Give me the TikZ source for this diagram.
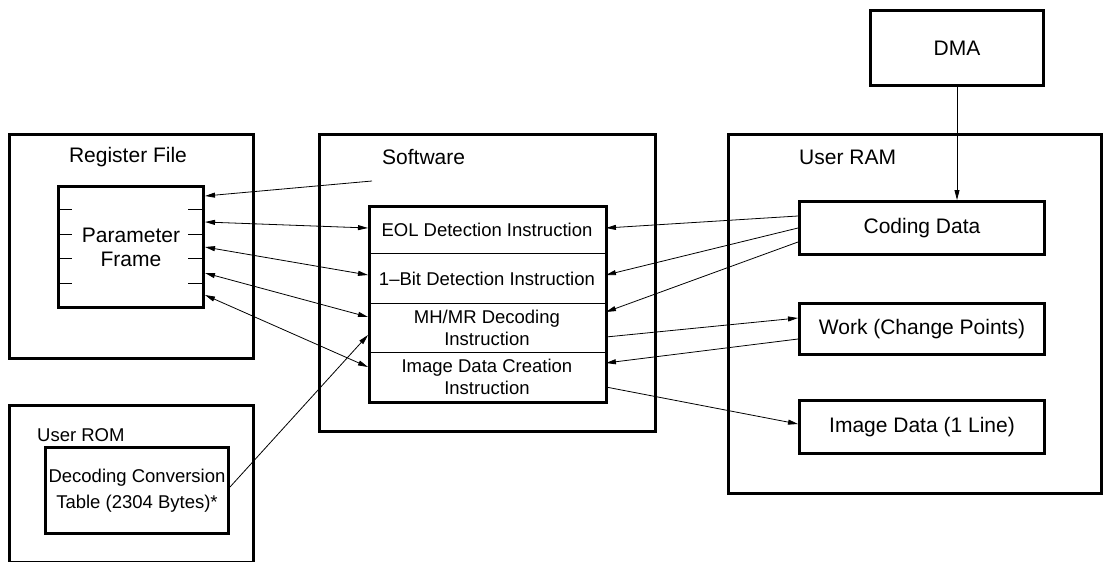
\documentclass[tikz,border=0pt]{standalone}
\usepackage{fontspec}
\setmainfont{Liberation Sans}
\usetikzlibrary{arrows.meta}
\begin{document}
\begin{tikzpicture}[x=1pt,y=-1pt,
  thickbox/.style={draw,line width=3pt,anchor=north west,inner sep=0pt},
  thinbox/.style={draw,line width=0.9pt,anchor=north west,inner sep=0pt,align=center,font=\fontsize{18.5}{22}\selectfont},
  big/.style={font=\fontsize{21}{24}\selectfont,inner sep=0pt},
  small/.style={font=\fontsize{18.5}{26}\selectfont,inner sep=0pt},
  conn/.style={line width=0.8pt},
  arr/.style={conn,-{Triangle[length=10pt,width=5pt]}},
  darr/.style={conn,{Triangle[length=10pt,width=5pt]}-{Triangle[length=10pt,width=5pt]}},
  tick/.style={line width=0.8pt}]
\useasboundingbox (0,0) rectangle (1103,562);
% Register File
\node[thickbox,minimum width=244pt,minimum height=224pt] (reg) at (8,133) {};
\node[big] (reglbl) at (128,157) {Register File};
\node[thickbox,minimum width=145pt,minimum height=121pt,big,align=center] (pf) at (57,185) {};
\node[big,align=center] (pflbl) at (pf.center) {Parameter\\[0pt]Frame};
\foreach \s/\n in {-24/a,-49/b,-73/c,-98/d}{
  \draw[tick] ([yshift=\s pt]pf.north west) -- ++(15,0);
  \draw[tick] ([yshift=\s pt]pf.north east) -- ++(-17,0);
}
% User ROM
\node[thickbox,minimum width=244pt,minimum height=157pt] (rom) at (8,404) {};
\node[small,anchor=west] (romlbl) at (37,435) {User ROM};
\node[thickbox,minimum width=183pt,minimum height=86pt] (dct) at (44,446) {};
\node[small,align=center] (dctlbl) at (dct.center) {Decoding Conversion\\Table (2304 Bytes)*};
% Software
\node[thickbox,minimum width=336pt,minimum height=297pt] (sw) at (318,133) {};
\node[big,anchor=west] (swlbl) at (382,157) {Software};
\coordinate (swsrc) at (372,181);
\node[thinbox,minimum width=237pt,minimum height=48pt] (eol) at (368,205) {EOL Detection Instruction};
\node[thinbox,minimum width=237pt,minimum height=50pt] (bit) at (368,253) {1–Bit Detection Instruction};
\node[thinbox,minimum width=237pt,minimum height=49pt] (mhmr) at (368,303) {MH/MR Decoding\\Instruction};
\node[thinbox,minimum width=237pt,minimum height=49pt] (img) at (368,352) {Image Data Creation\\Instruction};
\node[thickbox,minimum width=237pt,minimum height=196pt] (ins) at (368,205) {};
% User RAM
\node[thickbox,minimum width=373pt,minimum height=359pt] (ram) at (727,133) {};
\node[big,anchor=west] (ramlbl) at (799,157) {User RAM};
\node[thickbox,minimum width=245pt,minimum height=53pt,big] (coding) at (798,200) {Coding Data};
\node[thickbox,minimum width=245pt,minimum height=51pt,big] (work) at (798,302) {Work (Change Points)};
\node[thickbox,minimum width=245pt,minimum height=53pt,big] (imgd) at (798,399) {Image Data (1 Line)};
% DMA
\node[thickbox,minimum width=173pt,minimum height=75pt,big] (dma) at (869,9) {DMA};
% connectors
\draw[arr] (swsrc) -- ([yshift=-11pt]pf.north east);
\draw[darr] ([yshift=-37pt]pf.north east) -- ([yshift=-23pt]eol.north west);
\draw[darr] ([yshift=-62pt]pf.north east) -- ([yshift=-22pt]bit.north west);
\draw[darr] ([yshift=-88pt]pf.north east) -- ([yshift=-14pt]mhmr.north west);
\draw[darr] ([yshift=-110pt]pf.north east) -- ([yshift=-15pt]img.north west);
\draw[arr] ([yshift=-41pt]dct.north east) -- ([yshift=-32pt]mhmr.north west);
\draw[arr] ([yshift=-16pt]coding.north west) -- ([yshift=-23pt]eol.north east);
\draw[arr] ([yshift=-28pt]coding.north west) -- ([yshift=-22pt]bit.north east);
\draw[arr] ([yshift=-42pt]coding.north west) -- ([yshift=-9pt]mhmr.north east);
\draw[arr] ([yshift=-34pt]mhmr.north east) -- ([yshift=-16pt]work.north west);
\draw[arr] ([yshift=-37pt]work.north west) -- ([yshift=-11pt]img.north east);
\draw[arr] ([yshift=-35pt]img.north east) -- ([yshift=-25pt]imgd.north west);
\draw[arr] (dma.south) -- (dma.south |- coding.north);
\end{tikzpicture}
\end{document}
